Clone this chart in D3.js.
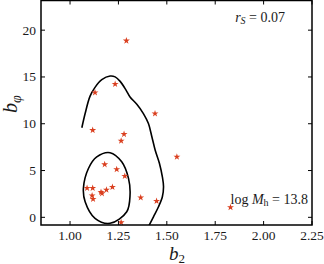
<!DOCTYPE html>
<html>
<head>
<meta charset="utf-8">
<script src="https://cdn.jsdelivr.net/npm/d3@7"></script>
<style>
    body { margin: 0; background: #fff; }
    svg text { font-family: "Liberation Serif", "DejaVu Serif", serif; fill: #1a1a1a; }
</style>
</head>
<body>
<svg id="chart" width="324" height="264"></svg>
<script>
// star points (b2, b_phi)
var starB2 = [1.291, 1.233, 1.129, 1.439, 1.117, 1.279, 1.264, 1.179, 1.241, 1.283,
    1.088, 1.117, 1.219, 1.188, 1.160, 1.165, 1.114, 1.119, 1.365, 1.447, 1.552, 1.829, 1.264];
var starBphi = [18.87, 14.24, 13.33, 11.09, 9.31, 8.88, 8.17, 5.65, 5.12, 4.40,
    3.12, 3.12, 3.23, 2.94, 2.70, 2.55, 2.32, 1.95, 2.11, 1.74, 6.46, 1.07, -0.55];

// outer contour (open, runs off the bottom)
var outerB2 = [1.061, 1.078, 1.103, 1.129, 1.164, 1.207, 1.233, 1.259, 1.290, 1.310, 1.345,
    1.379, 1.405, 1.423, 1.440, 1.462, 1.477, 1.483, 1.477, 1.457, 1.431, 1.405];
var outerBphi = [9.57, 11.09, 12.93, 13.89, 14.71, 15.10, 15.01, 14.53, 13.57, 12.86, 12.08,
    11.09, 10.02, 8.59, 7.17, 5.76, 4.33, 3.26, 2.20, 1.13, 0.06, -1.0];

// inner contour (closed)
var innerB2 = [1.207, 1.267, 1.302, 1.310, 1.293, 1.207, 1.129, 1.078, 1.069, 1.095, 1.138];
var innerBphi = [6.91, 5.93, 4.16, 2.38, 0.60, -0.64, -0.11, 1.66, 3.09, 5.22, 6.46];

var xTicks = [1.00, 1.25, 1.50, 1.75, 2.00, 2.25];
var yTicks = [0, 5, 10, 15, 20];

var padL = 41, padR = 312, padT = 0.5, padB = 225;

var svg = d3.select("#chart");

var x = d3.scaleLinear().domain([0.85, 2.25]).range([padL, padR]);
var y = d3.scaleLinear().domain([-0.82, 23.17]).range([padB, padT]);

svg.append("defs").append("clipPath").attr("id", "plotClip")
    .append("rect")
    .attr("x", padL).attr("y", padT)
    .attr("width", padR - padL).attr("height", padB - padT);

var plot = svg.append("g").attr("clip-path", "url(#plotClip)");

function toPoints(xs, ys) {
    return xs.map(function (v, i) { return [v, ys[i]]; });
}

var line = d3.line()
    .x(function (d) { return x(d[0]); })
    .y(function (d) { return y(d[1]); });

plot.append("path")
    .datum(toPoints(outerB2, outerBphi))
    .attr("d", line.curve(d3.curveCatmullRom.alpha(0.5)))
    .attr("fill", "none")
    .attr("stroke", "#000")
    .attr("stroke-width", 1.6);

plot.append("path")
    .datum(toPoints(innerB2, innerBphi))
    .attr("d", line.curve(d3.curveCatmullRomClosed.alpha(0.5)))
    .attr("fill", "none")
    .attr("stroke", "#000")
    .attr("stroke-width", 1.6);

var star = d3.symbol().type(d3.symbolStar).size(15);
plot.selectAll("path.star")
    .data(toPoints(starB2, starBphi))
    .enter()
    .append("path")
    .classed("star", true)
    .attr("transform", function (d) { return "translate(" + x(d[0]) + "," + y(d[1]) + ")"; })
    .attr("d", star)
    .attr("fill", "#da3f1f");

// ticks on all four sides, pointing in
var tl = 4;
var tickG = svg.append("g").attr("stroke", "#000").attr("stroke-width", 1);
xTicks.forEach(function (t) {
    tickG.append("line").attr("x1", x(t)).attr("x2", x(t)).attr("y1", padB).attr("y2", padB - tl);
    tickG.append("line").attr("x1", x(t)).attr("x2", x(t)).attr("y1", padT).attr("y2", padT + tl);
});
yTicks.forEach(function (t) {
    tickG.append("line").attr("x1", padL).attr("x2", padL + tl).attr("y1", y(t)).attr("y2", y(t));
    tickG.append("line").attr("x1", padR).attr("x2", padR - tl).attr("y1", y(t)).attr("y2", y(t));
});

svg.append("rect")
    .attr("x", padL).attr("y", padT)
    .attr("width", padR - padL).attr("height", padB - padT)
    .attr("fill", "none")
    .attr("stroke", "#000")
    .attr("stroke-width", 1.5);

svg.selectAll("text.xtick")
    .data(xTicks)
    .enter()
    .append("text")
    .attr("x", function (d) { return x(d); })
    .attr("y", 239.5)
    .attr("text-anchor", "middle")
    .attr("font-size", 13.5)
    .text(function (d) { return d.toFixed(2); });

svg.selectAll("text.ytick")
    .data(yTicks)
    .enter()
    .append("text")
    .attr("x", 36)
    .attr("y", function (d) { return y(d) + 4.5; })
    .attr("text-anchor", "end")
    .attr("font-size", 13.5)
    .text(function (d) { return d; });

// axis labels
var xl = svg.append("text")
    .attr("x", 177).attr("y", 259.5)
    .attr("text-anchor", "middle")
    .attr("font-size", 19);
xl.append("tspan").attr("font-style", "italic").text("b");
xl.append("tspan").attr("font-size", 13).attr("dy", 3).text("2");

var yl = svg.append("text")
    .attr("transform", "translate(17,104) rotate(-90)")
    .attr("text-anchor", "middle")
    .attr("font-size", 20);
yl.append("tspan").attr("font-style", "italic").text("b");
yl.append("tspan").attr("font-size", 14).attr("font-style", "italic").attr("dy", 4).text("φ");

// annotations
var rs = svg.append("text")
    .attr("x", 285).attr("y", 22)
    .attr("text-anchor", "end")
    .attr("font-size", 14);
rs.append("tspan").attr("font-style", "italic").text("r");
rs.append("tspan").attr("font-style", "italic").attr("font-size", 10).attr("dy", 2).text("S");
rs.append("tspan").attr("dy", -2).text(" = 0.07");

var lm = svg.append("text")
    .attr("x", 308).attr("y", 204)
    .attr("text-anchor", "end")
    .attr("font-size", 14);
lm.append("tspan").text("log ");
lm.append("tspan").attr("font-style", "italic").text("M");
lm.append("tspan").attr("font-size", 10).attr("dy", 2).text("h");
lm.append("tspan").attr("dy", -2).text(" = 13.8");
</script>
</body>
</html>
